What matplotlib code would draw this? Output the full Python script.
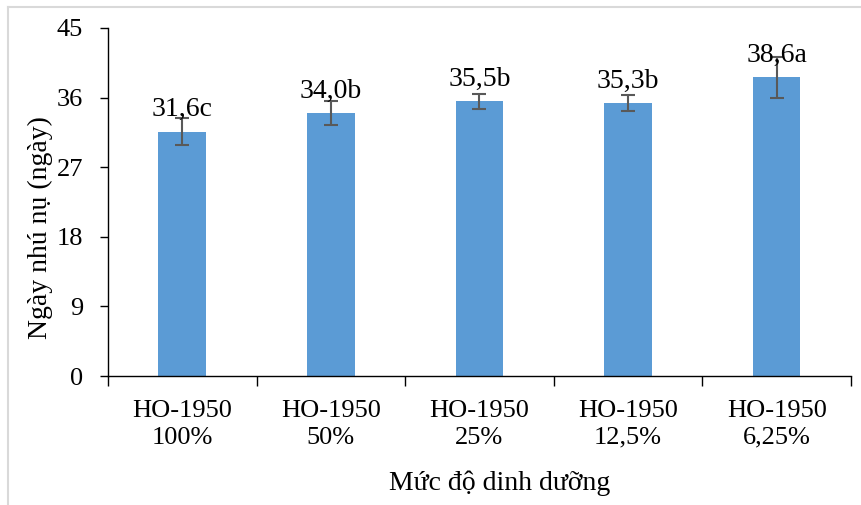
import numpy as np
import matplotlib.pyplot as plt
from matplotlib.lines import Line2D

# data
categories = ['HO-1950\n100%', 'HO-1950\n50%', 'HO-1950\n25%', 'HO-1950\n12,5%', 'HO-1950\n6,25%']
values = [31.6, 34.0, 35.5, 35.3, 38.6]
errors = [1.7, 1.5, 1.0, 1.0, 2.65]
labels = ['31,6c', '34,0b', '35,5b', '35,3b', '38,6a']
yticks = [0, 9, 18, 27, 36, 45]

plt.rcParams['font.family'] = ['Liberation Serif', 'DejaVu Serif']
plt.rcParams['font.size'] = 19

fig = plt.figure(figsize=(8.61, 5.05), dpi=100)
ax = fig.add_axes([0.1254, 0.2554, 0.863, 0.6892])

x = np.arange(len(categories))
ax.bar(x, values, width=0.32, color='#5B9BD5', zorder=2)
ax.errorbar(x, values, yerr=errors, fmt='none', ecolor='#595959',
            elinewidth=1.5, capsize=5, capthick=1.5, zorder=3)
for xi, v, lab in zip(x, values, labels):
    ax.annotate(lab, (xi, v), xytext=(0, 11), textcoords='offset points',
                ha='center', va='baseline', fontsize=20, zorder=4)

ax.set_xlim(-0.5, len(categories) - 0.5)
ax.set_ylim(0, 45)
ax.set_yticks(yticks)
ax.set_xticks(np.arange(-0.5, len(categories), 1.0))
ax.set_xticklabels([])
ax.set_xticks(x, minor=True)
ax.set_xticklabels(categories, minor=True, linespacing=1.3)
ax.tick_params(axis='x', which='major', length=7, width=1, direction='out')
ax.tick_params(axis='x', which='minor', length=0, pad=17)
ax.tick_params(axis='y', length=6, width=1, direction='out', pad=12)

ax.spines['top'].set_visible(False)
ax.spines['right'].set_visible(False)
for s in ['left', 'bottom']:
    ax.spines[s].set_color('black')
    ax.spines[s].set_linewidth(1)

fig.text(40 / 861, 1 - 228 / 505, 'Ngày nhú nụ (ngày)', rotation=90,
         ha='center', va='center', fontsize=20)
fig.text(500 / 861, 1 - 483 / 505, 'Mức độ dinh dưỡng',
         ha='center', va='center', fontsize=20)

# chart area border (top and left edges visible)
fig.add_artist(Line2D([7.5 / 861, 7.5 / 861], [0, 1 - 6.5 / 505],
                      transform=fig.transFigure, color='#D9D9D9', linewidth=1.5))
fig.add_artist(Line2D([7.5 / 861, 1], [1 - 6.5 / 505, 1 - 6.5 / 505],
                      transform=fig.transFigure, color='#D9D9D9', linewidth=1.5))

fig.savefig('out.png', dpi=100)
